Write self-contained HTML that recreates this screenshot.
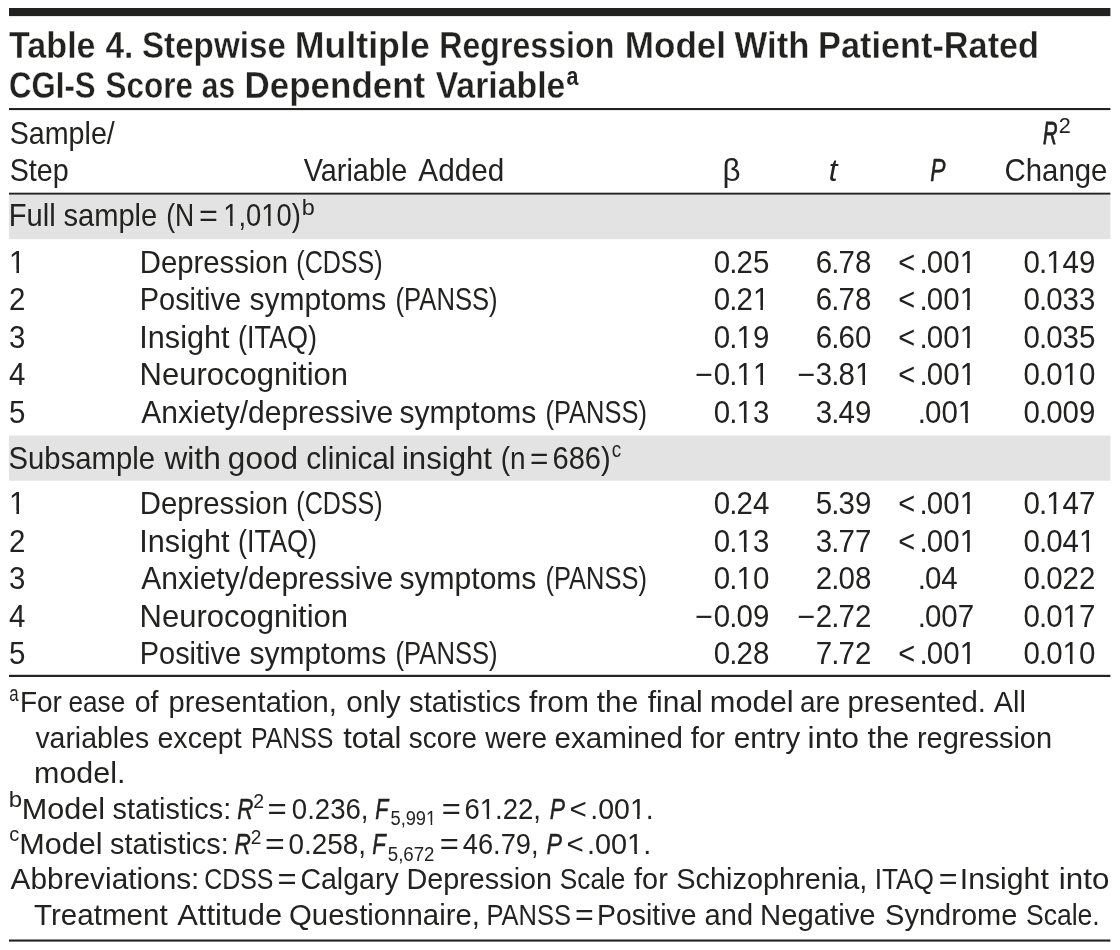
<!DOCTYPE html>
<html lang="en"><head><meta charset="utf-8"><title>Table 4. Stepwise Multiple Regression Model</title>
<style>html,body{margin:0;padding:0;background:#fff}svg{display:block}text{font-family:"Liberation Sans",sans-serif;fill:#222221;white-space:pre}.b{font-weight:bold}.i{font-style:italic}.r{font-weight:normal;font-style:normal}</style></head><body>
<svg width="1120" height="950" viewBox="0 0 1120 950">
<rect width="1120" height="950" fill="#fff"/>
<rect x="9" y="194.5" width="1101.4" height="44.6" fill="#e3e3e3"/>
<rect x="9" y="435.5" width="1101.4" height="45.2" fill="#e3e3e3"/>
<rect x="9" y="8" width="1101.4" height="8.1" fill="#222221"/>
<rect x="9" y="108.0" width="1101.4" height="2.1" fill="#222221"/>
<rect x="9" y="192.7" width="1101.4" height="1.9" fill="#222221"/>
<rect x="9" y="674.8" width="1101.4" height="2.2" fill="#222221"/>
<rect x="9" y="939.5" width="1101.4" height="2.1" fill="#222221"/>
<text y="57.7" font-size="37" class="b"><tspan x="9.02" textLength="86.58" lengthAdjust="spacingAndGlyphs" stroke="#fff" stroke-width="0.35">Table</tspan> <tspan x="105.39" textLength="27.97" lengthAdjust="spacingAndGlyphs" stroke="#fff" stroke-width="0.35">4.</tspan> <tspan x="141.94" textLength="143.99" lengthAdjust="spacingAndGlyphs" stroke="#fff" stroke-width="0.35">Stepwise</tspan> <tspan x="294.76" textLength="135.01" lengthAdjust="spacingAndGlyphs" stroke="#fff" stroke-width="0.35">Multiple</tspan> <tspan x="439.25" textLength="175.04" lengthAdjust="spacingAndGlyphs" stroke="#fff" stroke-width="0.35">Regression</tspan> <tspan x="624.81" textLength="101.23" lengthAdjust="spacingAndGlyphs" stroke="#fff" stroke-width="0.35">Model</tspan> <tspan x="734.62" textLength="74.84" lengthAdjust="spacingAndGlyphs" stroke="#fff" stroke-width="0.35">With</tspan> <tspan x="818.11" textLength="220.95" lengthAdjust="spacingAndGlyphs" stroke="#fff" stroke-width="0.35">Patient-Rated</tspan></text>
<text y="98" font-size="37" class="b"><tspan x="9.12" textLength="86.53" lengthAdjust="spacingAndGlyphs" stroke="#fff" stroke-width="0.35">CGI-S</tspan> <tspan x="105.49" textLength="87.58" lengthAdjust="spacingAndGlyphs" stroke="#fff" stroke-width="0.35">Score</tspan> <tspan x="201.83" textLength="33.2" lengthAdjust="spacingAndGlyphs" stroke="#fff" stroke-width="0.35">as</tspan> <tspan x="244.56" textLength="180.67" lengthAdjust="spacingAndGlyphs" stroke="#fff" stroke-width="0.35">Dependent</tspan> <tspan x="435.67" textLength="129.79" lengthAdjust="spacingAndGlyphs" stroke="#fff" stroke-width="0.35">Variable</tspan><tspan x="566.53" y="85" textLength="11.88" lengthAdjust="spacingAndGlyphs" font-size="25">a</tspan></text>
<text y="144" font-size="30.7"><tspan x="9.7" textLength="105.1" lengthAdjust="spacingAndGlyphs">Sample/</tspan> <tspan x="1043.03" textLength="14.48" lengthAdjust="spacingAndGlyphs" class="i" stroke="#222221" stroke-width="0.85">R</tspan><tspan x="1058.66" y="132.75" textLength="12.03" lengthAdjust="spacingAndGlyphs" font-size="22.7">2</tspan></text>
<text y="180.5" font-size="30.7"><tspan x="9.7" textLength="59.01" lengthAdjust="spacingAndGlyphs">Step</tspan> <tspan x="303.77" textLength="103.56" lengthAdjust="spacingAndGlyphs">Variable</tspan> <tspan x="418.34" textLength="85.87" lengthAdjust="spacingAndGlyphs">Added</tspan> <tspan x="722.47" textLength="18.07" lengthAdjust="spacingAndGlyphs">β</tspan> <tspan x="828.72" textLength="8.74" lengthAdjust="spacingAndGlyphs" class="i">t</tspan> <tspan x="930.2" textLength="15.25" lengthAdjust="spacingAndGlyphs" class="i" stroke="#222221" stroke-width="0.55">P</tspan> <tspan x="1004.56" textLength="102.9" lengthAdjust="spacingAndGlyphs">Change</tspan></text>
<text y="226.4" font-size="30.7"><tspan x="8.66" textLength="47" lengthAdjust="spacingAndGlyphs">Full</tspan> <tspan x="63.39" textLength="93.91" lengthAdjust="spacingAndGlyphs">sample</tspan> <tspan x="166.25" textLength="28.01" lengthAdjust="spacingAndGlyphs">(N</tspan> <tspan x="199.12" textLength="18.87" lengthAdjust="spacingAndGlyphs">=</tspan> <tspan x="223.32" textLength="77.48" lengthAdjust="spacingAndGlyphs">1,010)</tspan><tspan x="301.89" y="214.6" textLength="13.03" lengthAdjust="spacingAndGlyphs" font-size="21.8">b</tspan></text>
<text y="273.2" font-size="30.7"><tspan x="9" textLength="16.4" lengthAdjust="spacingAndGlyphs">1</tspan> <tspan x="139.75" textLength="148.21" lengthAdjust="spacingAndGlyphs">Depression</tspan> <tspan x="296.35" textLength="86.26" lengthAdjust="spacingAndGlyphs">(CDSS)</tspan> <tspan x="713.75" textLength="16.4" lengthAdjust="spacingAndGlyphs">0</tspan><tspan x="729.25" textLength="8.19" lengthAdjust="spacingAndGlyphs">.</tspan><tspan x="736.55" textLength="16.4" lengthAdjust="spacingAndGlyphs">2</tspan><tspan x="752.95" textLength="16.4" lengthAdjust="spacingAndGlyphs">5</tspan> <tspan x="815.75" textLength="16.4" lengthAdjust="spacingAndGlyphs">6</tspan><tspan x="831.25" textLength="8.19" lengthAdjust="spacingAndGlyphs">.</tspan><tspan x="838.55" textLength="16.4" lengthAdjust="spacingAndGlyphs">7</tspan><tspan x="854.95" textLength="16.4" lengthAdjust="spacingAndGlyphs">8</tspan> <tspan x="898.37" textLength="16.95" lengthAdjust="spacingAndGlyphs">&lt;</tspan><tspan x="919.55" textLength="8.19" lengthAdjust="spacingAndGlyphs">.</tspan><tspan x="926.85" textLength="16.4" lengthAdjust="spacingAndGlyphs">0</tspan><tspan x="943.25" textLength="16.4" lengthAdjust="spacingAndGlyphs">0</tspan><tspan x="959.65" textLength="16.4" lengthAdjust="spacingAndGlyphs">1</tspan> <tspan x="1023.4" textLength="16.4" lengthAdjust="spacingAndGlyphs">0</tspan><tspan x="1038.9" textLength="8.19" lengthAdjust="spacingAndGlyphs">.</tspan><tspan x="1046.2" textLength="16.4" lengthAdjust="spacingAndGlyphs">1</tspan><tspan x="1062.6" textLength="16.4" lengthAdjust="spacingAndGlyphs">4</tspan><tspan x="1079" textLength="16.4" lengthAdjust="spacingAndGlyphs">9</tspan></text>
<text y="309.9" font-size="30.7"><tspan x="9" textLength="16.4" lengthAdjust="spacingAndGlyphs">2</tspan> <tspan x="139.78" textLength="101.31" lengthAdjust="spacingAndGlyphs">Positive</tspan> <tspan x="249.56" textLength="136.82" lengthAdjust="spacingAndGlyphs">symptoms</tspan> <tspan x="395.56" textLength="102.08" lengthAdjust="spacingAndGlyphs">(PANSS)</tspan> <tspan x="713.75" textLength="16.4" lengthAdjust="spacingAndGlyphs">0</tspan><tspan x="729.25" textLength="8.19" lengthAdjust="spacingAndGlyphs">.</tspan><tspan x="736.55" textLength="16.4" lengthAdjust="spacingAndGlyphs">2</tspan><tspan x="752.95" textLength="16.4" lengthAdjust="spacingAndGlyphs">1</tspan> <tspan x="815.75" textLength="16.4" lengthAdjust="spacingAndGlyphs">6</tspan><tspan x="831.25" textLength="8.19" lengthAdjust="spacingAndGlyphs">.</tspan><tspan x="838.55" textLength="16.4" lengthAdjust="spacingAndGlyphs">7</tspan><tspan x="854.95" textLength="16.4" lengthAdjust="spacingAndGlyphs">8</tspan> <tspan x="898.37" textLength="16.95" lengthAdjust="spacingAndGlyphs">&lt;</tspan><tspan x="919.55" textLength="8.19" lengthAdjust="spacingAndGlyphs">.</tspan><tspan x="926.85" textLength="16.4" lengthAdjust="spacingAndGlyphs">0</tspan><tspan x="943.25" textLength="16.4" lengthAdjust="spacingAndGlyphs">0</tspan><tspan x="959.65" textLength="16.4" lengthAdjust="spacingAndGlyphs">1</tspan> <tspan x="1023.4" textLength="16.4" lengthAdjust="spacingAndGlyphs">0</tspan><tspan x="1038.9" textLength="8.19" lengthAdjust="spacingAndGlyphs">.</tspan><tspan x="1046.2" textLength="16.4" lengthAdjust="spacingAndGlyphs">0</tspan><tspan x="1062.6" textLength="16.4" lengthAdjust="spacingAndGlyphs">3</tspan><tspan x="1079" textLength="16.4" lengthAdjust="spacingAndGlyphs">3</tspan></text>
<text y="347.8" font-size="30.7"><tspan x="9" textLength="16.4" lengthAdjust="spacingAndGlyphs">3</tspan> <tspan x="139.32" textLength="90.2" lengthAdjust="spacingAndGlyphs">Insight</tspan> <tspan x="237.97" textLength="79" lengthAdjust="spacingAndGlyphs">(ITAQ)</tspan> <tspan x="713.75" textLength="16.4" lengthAdjust="spacingAndGlyphs">0</tspan><tspan x="729.25" textLength="8.19" lengthAdjust="spacingAndGlyphs">.</tspan><tspan x="736.55" textLength="16.4" lengthAdjust="spacingAndGlyphs">1</tspan><tspan x="752.95" textLength="16.4" lengthAdjust="spacingAndGlyphs">9</tspan> <tspan x="815.75" textLength="16.4" lengthAdjust="spacingAndGlyphs">6</tspan><tspan x="831.25" textLength="8.19" lengthAdjust="spacingAndGlyphs">.</tspan><tspan x="838.55" textLength="16.4" lengthAdjust="spacingAndGlyphs">6</tspan><tspan x="854.95" textLength="16.4" lengthAdjust="spacingAndGlyphs">0</tspan> <tspan x="898.37" textLength="16.95" lengthAdjust="spacingAndGlyphs">&lt;</tspan><tspan x="919.55" textLength="8.19" lengthAdjust="spacingAndGlyphs">.</tspan><tspan x="926.85" textLength="16.4" lengthAdjust="spacingAndGlyphs">0</tspan><tspan x="943.25" textLength="16.4" lengthAdjust="spacingAndGlyphs">0</tspan><tspan x="959.65" textLength="16.4" lengthAdjust="spacingAndGlyphs">1</tspan> <tspan x="1023.4" textLength="16.4" lengthAdjust="spacingAndGlyphs">0</tspan><tspan x="1038.9" textLength="8.19" lengthAdjust="spacingAndGlyphs">.</tspan><tspan x="1046.2" textLength="16.4" lengthAdjust="spacingAndGlyphs">0</tspan><tspan x="1062.6" textLength="16.4" lengthAdjust="spacingAndGlyphs">3</tspan><tspan x="1079" textLength="16.4" lengthAdjust="spacingAndGlyphs">5</tspan></text>
<text y="384.8" font-size="30.7"><tspan x="9" textLength="16.4" lengthAdjust="spacingAndGlyphs">4</tspan> <tspan x="139.61" textLength="208.46" lengthAdjust="spacingAndGlyphs">Neurocognition</tspan> <tspan x="695.3" textLength="17.79" lengthAdjust="spacingAndGlyphs">−</tspan><tspan x="713.75" textLength="16.4" lengthAdjust="spacingAndGlyphs">0</tspan><tspan x="729.25" textLength="8.19" lengthAdjust="spacingAndGlyphs">.</tspan><tspan x="736.55" textLength="16.4" lengthAdjust="spacingAndGlyphs">1</tspan><tspan x="752.95" textLength="16.4" lengthAdjust="spacingAndGlyphs">1</tspan> <tspan x="797.39" textLength="17.91" lengthAdjust="spacingAndGlyphs">−</tspan><tspan x="815.75" textLength="16.4" lengthAdjust="spacingAndGlyphs">3</tspan><tspan x="831.25" textLength="8.19" lengthAdjust="spacingAndGlyphs">.</tspan><tspan x="838.55" textLength="16.4" lengthAdjust="spacingAndGlyphs">8</tspan><tspan x="854.95" textLength="16.4" lengthAdjust="spacingAndGlyphs">1</tspan> <tspan x="898.37" textLength="16.95" lengthAdjust="spacingAndGlyphs">&lt;</tspan><tspan x="919.55" textLength="8.19" lengthAdjust="spacingAndGlyphs">.</tspan><tspan x="926.85" textLength="16.4" lengthAdjust="spacingAndGlyphs">0</tspan><tspan x="943.25" textLength="16.4" lengthAdjust="spacingAndGlyphs">0</tspan><tspan x="959.65" textLength="16.4" lengthAdjust="spacingAndGlyphs">1</tspan> <tspan x="1023.4" textLength="16.4" lengthAdjust="spacingAndGlyphs">0</tspan><tspan x="1038.9" textLength="8.19" lengthAdjust="spacingAndGlyphs">.</tspan><tspan x="1046.2" textLength="16.4" lengthAdjust="spacingAndGlyphs">0</tspan><tspan x="1062.6" textLength="16.4" lengthAdjust="spacingAndGlyphs">1</tspan><tspan x="1079" textLength="16.4" lengthAdjust="spacingAndGlyphs">0</tspan></text>
<text y="423.2" font-size="30.7"><tspan x="9" textLength="16.4" lengthAdjust="spacingAndGlyphs">5</tspan> <tspan x="141.34" textLength="251.79" lengthAdjust="spacingAndGlyphs">Anxiety/depressive</tspan> <tspan x="399.56" textLength="136.82" lengthAdjust="spacingAndGlyphs">symptoms</tspan> <tspan x="545.57" textLength="101.31" lengthAdjust="spacingAndGlyphs">(PANSS)</tspan> <tspan x="713.75" textLength="16.4" lengthAdjust="spacingAndGlyphs">0</tspan><tspan x="729.25" textLength="8.19" lengthAdjust="spacingAndGlyphs">.</tspan><tspan x="736.55" textLength="16.4" lengthAdjust="spacingAndGlyphs">1</tspan><tspan x="752.95" textLength="16.4" lengthAdjust="spacingAndGlyphs">3</tspan> <tspan x="815.75" textLength="16.4" lengthAdjust="spacingAndGlyphs">3</tspan><tspan x="831.25" textLength="8.19" lengthAdjust="spacingAndGlyphs">.</tspan><tspan x="838.55" textLength="16.4" lengthAdjust="spacingAndGlyphs">4</tspan><tspan x="854.95" textLength="16.4" lengthAdjust="spacingAndGlyphs">9</tspan> <tspan x="917.75" textLength="8.19" lengthAdjust="spacingAndGlyphs">.</tspan><tspan x="925.05" textLength="16.4" lengthAdjust="spacingAndGlyphs">0</tspan><tspan x="941.45" textLength="16.4" lengthAdjust="spacingAndGlyphs">0</tspan><tspan x="957.85" textLength="16.4" lengthAdjust="spacingAndGlyphs">1</tspan> <tspan x="1023.4" textLength="16.4" lengthAdjust="spacingAndGlyphs">0</tspan><tspan x="1038.9" textLength="8.19" lengthAdjust="spacingAndGlyphs">.</tspan><tspan x="1046.2" textLength="16.4" lengthAdjust="spacingAndGlyphs">0</tspan><tspan x="1062.6" textLength="16.4" lengthAdjust="spacingAndGlyphs">0</tspan><tspan x="1079" textLength="16.4" lengthAdjust="spacingAndGlyphs">9</tspan></text>
<text y="468.7" font-size="30.7"><tspan x="8.57" textLength="146.46" lengthAdjust="spacingAndGlyphs">Subsample</tspan> <tspan x="164.45" textLength="56.31" lengthAdjust="spacingAndGlyphs">with</tspan> <tspan x="227.88" textLength="70.05" lengthAdjust="spacingAndGlyphs">good</tspan> <tspan x="306.13" textLength="89.36" lengthAdjust="spacingAndGlyphs">clinical</tspan> <tspan x="401.91" textLength="90.11" lengthAdjust="spacingAndGlyphs">insight</tspan> <tspan x="500.77" textLength="24.85" lengthAdjust="spacingAndGlyphs">(n</tspan> <tspan x="530.06" textLength="18.39" lengthAdjust="spacingAndGlyphs">=</tspan> <tspan x="552.52" textLength="58.14" lengthAdjust="spacingAndGlyphs">686)</tspan><tspan x="611.73" y="457.3" textLength="9.39" lengthAdjust="spacingAndGlyphs" font-size="22.3">c</tspan></text>
<text y="514.3" font-size="30.7"><tspan x="9" textLength="16.4" lengthAdjust="spacingAndGlyphs">1</tspan> <tspan x="139.75" textLength="148.21" lengthAdjust="spacingAndGlyphs">Depression</tspan> <tspan x="296.35" textLength="86.26" lengthAdjust="spacingAndGlyphs">(CDSS)</tspan> <tspan x="713.75" textLength="16.4" lengthAdjust="spacingAndGlyphs">0</tspan><tspan x="729.25" textLength="8.19" lengthAdjust="spacingAndGlyphs">.</tspan><tspan x="736.55" textLength="16.4" lengthAdjust="spacingAndGlyphs">2</tspan><tspan x="752.95" textLength="16.4" lengthAdjust="spacingAndGlyphs">4</tspan> <tspan x="815.75" textLength="16.4" lengthAdjust="spacingAndGlyphs">5</tspan><tspan x="831.25" textLength="8.19" lengthAdjust="spacingAndGlyphs">.</tspan><tspan x="838.55" textLength="16.4" lengthAdjust="spacingAndGlyphs">3</tspan><tspan x="854.95" textLength="16.4" lengthAdjust="spacingAndGlyphs">9</tspan> <tspan x="898.37" textLength="16.95" lengthAdjust="spacingAndGlyphs">&lt;</tspan><tspan x="919.55" textLength="8.19" lengthAdjust="spacingAndGlyphs">.</tspan><tspan x="926.85" textLength="16.4" lengthAdjust="spacingAndGlyphs">0</tspan><tspan x="943.25" textLength="16.4" lengthAdjust="spacingAndGlyphs">0</tspan><tspan x="959.65" textLength="16.4" lengthAdjust="spacingAndGlyphs">1</tspan> <tspan x="1023.4" textLength="16.4" lengthAdjust="spacingAndGlyphs">0</tspan><tspan x="1038.9" textLength="8.19" lengthAdjust="spacingAndGlyphs">.</tspan><tspan x="1046.2" textLength="16.4" lengthAdjust="spacingAndGlyphs">1</tspan><tspan x="1062.6" textLength="16.4" lengthAdjust="spacingAndGlyphs">4</tspan><tspan x="1079" textLength="16.4" lengthAdjust="spacingAndGlyphs">7</tspan></text>
<text y="551.85" font-size="30.7"><tspan x="9" textLength="16.4" lengthAdjust="spacingAndGlyphs">2</tspan> <tspan x="139.32" textLength="90.2" lengthAdjust="spacingAndGlyphs">Insight</tspan> <tspan x="237.97" textLength="79" lengthAdjust="spacingAndGlyphs">(ITAQ)</tspan> <tspan x="713.75" textLength="16.4" lengthAdjust="spacingAndGlyphs">0</tspan><tspan x="729.25" textLength="8.19" lengthAdjust="spacingAndGlyphs">.</tspan><tspan x="736.55" textLength="16.4" lengthAdjust="spacingAndGlyphs">1</tspan><tspan x="752.95" textLength="16.4" lengthAdjust="spacingAndGlyphs">3</tspan> <tspan x="815.75" textLength="16.4" lengthAdjust="spacingAndGlyphs">3</tspan><tspan x="831.25" textLength="8.19" lengthAdjust="spacingAndGlyphs">.</tspan><tspan x="838.55" textLength="16.4" lengthAdjust="spacingAndGlyphs">7</tspan><tspan x="854.95" textLength="16.4" lengthAdjust="spacingAndGlyphs">7</tspan> <tspan x="898.37" textLength="16.95" lengthAdjust="spacingAndGlyphs">&lt;</tspan><tspan x="919.55" textLength="8.19" lengthAdjust="spacingAndGlyphs">.</tspan><tspan x="926.85" textLength="16.4" lengthAdjust="spacingAndGlyphs">0</tspan><tspan x="943.25" textLength="16.4" lengthAdjust="spacingAndGlyphs">0</tspan><tspan x="959.65" textLength="16.4" lengthAdjust="spacingAndGlyphs">1</tspan> <tspan x="1023.4" textLength="16.4" lengthAdjust="spacingAndGlyphs">0</tspan><tspan x="1038.9" textLength="8.19" lengthAdjust="spacingAndGlyphs">.</tspan><tspan x="1046.2" textLength="16.4" lengthAdjust="spacingAndGlyphs">0</tspan><tspan x="1062.6" textLength="16.4" lengthAdjust="spacingAndGlyphs">4</tspan><tspan x="1079" textLength="16.4" lengthAdjust="spacingAndGlyphs">1</tspan></text>
<text y="589" font-size="30.7"><tspan x="9" textLength="16.4" lengthAdjust="spacingAndGlyphs">3</tspan> <tspan x="141.34" textLength="251.79" lengthAdjust="spacingAndGlyphs">Anxiety/depressive</tspan> <tspan x="399.56" textLength="136.82" lengthAdjust="spacingAndGlyphs">symptoms</tspan> <tspan x="545.57" textLength="101.31" lengthAdjust="spacingAndGlyphs">(PANSS)</tspan> <tspan x="713.75" textLength="16.4" lengthAdjust="spacingAndGlyphs">0</tspan><tspan x="729.25" textLength="8.19" lengthAdjust="spacingAndGlyphs">.</tspan><tspan x="736.55" textLength="16.4" lengthAdjust="spacingAndGlyphs">1</tspan><tspan x="752.95" textLength="16.4" lengthAdjust="spacingAndGlyphs">0</tspan> <tspan x="815.75" textLength="16.4" lengthAdjust="spacingAndGlyphs">2</tspan><tspan x="831.25" textLength="8.19" lengthAdjust="spacingAndGlyphs">.</tspan><tspan x="838.55" textLength="16.4" lengthAdjust="spacingAndGlyphs">0</tspan><tspan x="854.95" textLength="16.4" lengthAdjust="spacingAndGlyphs">8</tspan> <tspan x="917.65" textLength="8.19" lengthAdjust="spacingAndGlyphs">.</tspan><tspan x="924.95" textLength="16.4" lengthAdjust="spacingAndGlyphs">0</tspan><tspan x="941.35" textLength="16.4" lengthAdjust="spacingAndGlyphs">4</tspan> <tspan x="1023.4" textLength="16.4" lengthAdjust="spacingAndGlyphs">0</tspan><tspan x="1038.9" textLength="8.19" lengthAdjust="spacingAndGlyphs">.</tspan><tspan x="1046.2" textLength="16.4" lengthAdjust="spacingAndGlyphs">0</tspan><tspan x="1062.6" textLength="16.4" lengthAdjust="spacingAndGlyphs">2</tspan><tspan x="1079" textLength="16.4" lengthAdjust="spacingAndGlyphs">2</tspan></text>
<text y="626.85" font-size="30.7"><tspan x="9" textLength="16.4" lengthAdjust="spacingAndGlyphs">4</tspan> <tspan x="139.61" textLength="208.46" lengthAdjust="spacingAndGlyphs">Neurocognition</tspan> <tspan x="695.3" textLength="17.79" lengthAdjust="spacingAndGlyphs">−</tspan><tspan x="713.75" textLength="16.4" lengthAdjust="spacingAndGlyphs">0</tspan><tspan x="729.25" textLength="8.19" lengthAdjust="spacingAndGlyphs">.</tspan><tspan x="736.55" textLength="16.4" lengthAdjust="spacingAndGlyphs">0</tspan><tspan x="752.95" textLength="16.4" lengthAdjust="spacingAndGlyphs">9</tspan> <tspan x="797.39" textLength="17.91" lengthAdjust="spacingAndGlyphs">−</tspan><tspan x="815.75" textLength="16.4" lengthAdjust="spacingAndGlyphs">2</tspan><tspan x="831.25" textLength="8.19" lengthAdjust="spacingAndGlyphs">.</tspan><tspan x="838.55" textLength="16.4" lengthAdjust="spacingAndGlyphs">7</tspan><tspan x="854.95" textLength="16.4" lengthAdjust="spacingAndGlyphs">2</tspan> <tspan x="917.65" textLength="8.19" lengthAdjust="spacingAndGlyphs">.</tspan><tspan x="924.95" textLength="16.4" lengthAdjust="spacingAndGlyphs">0</tspan><tspan x="941.35" textLength="16.4" lengthAdjust="spacingAndGlyphs">0</tspan><tspan x="957.75" textLength="16.4" lengthAdjust="spacingAndGlyphs">7</tspan> <tspan x="1023.4" textLength="16.4" lengthAdjust="spacingAndGlyphs">0</tspan><tspan x="1038.9" textLength="8.19" lengthAdjust="spacingAndGlyphs">.</tspan><tspan x="1046.2" textLength="16.4" lengthAdjust="spacingAndGlyphs">0</tspan><tspan x="1062.6" textLength="16.4" lengthAdjust="spacingAndGlyphs">1</tspan><tspan x="1079" textLength="16.4" lengthAdjust="spacingAndGlyphs">7</tspan></text>
<text y="664.4" font-size="30.7"><tspan x="9" textLength="16.4" lengthAdjust="spacingAndGlyphs">5</tspan> <tspan x="139.78" textLength="101.31" lengthAdjust="spacingAndGlyphs">Positive</tspan> <tspan x="249.56" textLength="136.82" lengthAdjust="spacingAndGlyphs">symptoms</tspan> <tspan x="395.56" textLength="102.08" lengthAdjust="spacingAndGlyphs">(PANSS)</tspan> <tspan x="713.75" textLength="16.4" lengthAdjust="spacingAndGlyphs">0</tspan><tspan x="729.25" textLength="8.19" lengthAdjust="spacingAndGlyphs">.</tspan><tspan x="736.55" textLength="16.4" lengthAdjust="spacingAndGlyphs">2</tspan><tspan x="752.95" textLength="16.4" lengthAdjust="spacingAndGlyphs">8</tspan> <tspan x="815.75" textLength="16.4" lengthAdjust="spacingAndGlyphs">7</tspan><tspan x="831.25" textLength="8.19" lengthAdjust="spacingAndGlyphs">.</tspan><tspan x="838.55" textLength="16.4" lengthAdjust="spacingAndGlyphs">7</tspan><tspan x="854.95" textLength="16.4" lengthAdjust="spacingAndGlyphs">2</tspan> <tspan x="898.37" textLength="16.95" lengthAdjust="spacingAndGlyphs">&lt;</tspan><tspan x="919.55" textLength="8.19" lengthAdjust="spacingAndGlyphs">.</tspan><tspan x="926.85" textLength="16.4" lengthAdjust="spacingAndGlyphs">0</tspan><tspan x="943.25" textLength="16.4" lengthAdjust="spacingAndGlyphs">0</tspan><tspan x="959.65" textLength="16.4" lengthAdjust="spacingAndGlyphs">1</tspan> <tspan x="1023.4" textLength="16.4" lengthAdjust="spacingAndGlyphs">0</tspan><tspan x="1038.9" textLength="8.19" lengthAdjust="spacingAndGlyphs">.</tspan><tspan x="1046.2" textLength="16.4" lengthAdjust="spacingAndGlyphs">0</tspan><tspan x="1062.6" textLength="16.4" lengthAdjust="spacingAndGlyphs">1</tspan><tspan x="1079" textLength="16.4" lengthAdjust="spacingAndGlyphs">0</tspan></text>
<text y="712.2" font-size="28.6"><tspan x="9.19" y="701" textLength="9.35" lengthAdjust="spacingAndGlyphs" font-size="21.51">a</tspan><tspan x="19.9" y="712.2" textLength="42.07" lengthAdjust="spacingAndGlyphs">For</tspan> <tspan x="68.54" textLength="56.67" lengthAdjust="spacingAndGlyphs">ease</tspan> <tspan x="134.7" textLength="23.81" lengthAdjust="spacingAndGlyphs">of</tspan> <tspan x="168.52" textLength="168.39" lengthAdjust="spacingAndGlyphs">presentation,</tspan> <tspan x="346.15" textLength="54.51" lengthAdjust="spacingAndGlyphs">only</tspan> <tspan x="409.09" textLength="111.77" lengthAdjust="spacingAndGlyphs">statistics</tspan> <tspan x="528.98" textLength="60" lengthAdjust="spacingAndGlyphs">from</tspan> <tspan x="596.85" textLength="41.37" lengthAdjust="spacingAndGlyphs">the</tspan> <tspan x="647.78" textLength="55.03" lengthAdjust="spacingAndGlyphs">final</tspan> <tspan x="709.86" textLength="83.8" lengthAdjust="spacingAndGlyphs">model</tspan> <tspan x="800.01" textLength="40.33" lengthAdjust="spacingAndGlyphs">are</tspan> <tspan x="847.51" textLength="138.46" lengthAdjust="spacingAndGlyphs">presented.</tspan> <tspan x="993.84" textLength="32.09" lengthAdjust="spacingAndGlyphs">All</tspan></text>
<text y="747.7" font-size="28.6"><tspan x="35.4" textLength="113.72" lengthAdjust="spacingAndGlyphs">variables</tspan> <tspan x="157.49" textLength="84.12" lengthAdjust="spacingAndGlyphs">except</tspan> <tspan x="250.96" textLength="82.48" lengthAdjust="spacingAndGlyphs">PANSS</tspan> <tspan x="343.33" textLength="58.12" lengthAdjust="spacingAndGlyphs">total</tspan> <tspan x="408.82" textLength="68.11" lengthAdjust="spacingAndGlyphs">score</tspan> <tspan x="485.34" textLength="61.83" lengthAdjust="spacingAndGlyphs">were</tspan> <tspan x="554.64" textLength="128.26" lengthAdjust="spacingAndGlyphs">examined</tspan> <tspan x="690.78" textLength="34.3" lengthAdjust="spacingAndGlyphs">for</tspan> <tspan x="733.73" textLength="66.43" lengthAdjust="spacingAndGlyphs">entry</tspan> <tspan x="807.56" textLength="51.58" lengthAdjust="spacingAndGlyphs">into</tspan> <tspan x="867.54" textLength="41.79" lengthAdjust="spacingAndGlyphs">the</tspan> <tspan x="916.98" textLength="135.1" lengthAdjust="spacingAndGlyphs">regression</tspan></text>
<text y="783.1" font-size="28.6"><tspan x="34.03" textLength="91.46" lengthAdjust="spacingAndGlyphs">model.</tspan></text>
<text y="818.6" font-size="28.6"><tspan x="8.65" y="807" textLength="13.34" lengthAdjust="spacingAndGlyphs" font-size="21.6">b</tspan><tspan x="21.79" y="818.6" textLength="83.39" lengthAdjust="spacingAndGlyphs">Model</tspan> <tspan x="112.6" textLength="118.59" lengthAdjust="spacingAndGlyphs">statistics:</tspan> <tspan x="237.21" textLength="16.22" lengthAdjust="spacingAndGlyphs" class="i" stroke="#222221" stroke-width="0.44">R</tspan><tspan x="253.37" y="808.2" textLength="10.84" lengthAdjust="spacingAndGlyphs" font-size="20.61">2</tspan> <tspan x="267.49" y="818.6" textLength="19.27" lengthAdjust="spacingAndGlyphs">=</tspan> <tspan x="291.82" textLength="76.71" lengthAdjust="spacingAndGlyphs">0.236,</tspan> <tspan x="375.24" textLength="13.06" lengthAdjust="spacingAndGlyphs" class="i" stroke="#222221" stroke-width="0.54">F</tspan><tspan x="390.47" y="825" textLength="45.72" lengthAdjust="spacingAndGlyphs" font-size="20.61">5,991</tspan> <tspan x="441.8" y="818.6" textLength="19.11" lengthAdjust="spacingAndGlyphs">=</tspan> <tspan x="464.5" textLength="76.52" lengthAdjust="spacingAndGlyphs">61.22,</tspan> <tspan x="549.7" textLength="15.25" lengthAdjust="spacingAndGlyphs" class="i" stroke="#222221" stroke-width="0.4">P</tspan> <tspan x="569.44" textLength="17.31" lengthAdjust="spacingAndGlyphs">&lt;</tspan> <tspan x="590.3" textLength="63.35" lengthAdjust="spacingAndGlyphs">.001.</tspan></text>
<text y="854.2" font-size="28.6"><tspan x="9.35" y="841.3" textLength="10.01" lengthAdjust="spacingAndGlyphs" font-size="21">c</tspan><tspan x="19.29" y="854.2" textLength="83.39" lengthAdjust="spacingAndGlyphs">Model</tspan> <tspan x="110.1" textLength="118.59" lengthAdjust="spacingAndGlyphs">statistics:</tspan> <tspan x="234.5" textLength="16.43" lengthAdjust="spacingAndGlyphs" class="i" stroke="#222221" stroke-width="0.41">R</tspan><tspan x="250.64" y="843.8" textLength="10.66" lengthAdjust="spacingAndGlyphs" font-size="20.61">2</tspan> <tspan x="264.95" y="854.2" textLength="19.75" lengthAdjust="spacingAndGlyphs">=</tspan> <tspan x="288.56" textLength="77.49" lengthAdjust="spacingAndGlyphs">0.258,</tspan> <tspan x="372.22" textLength="13.54" lengthAdjust="spacingAndGlyphs" class="i" stroke="#222221" stroke-width="0.46">F</tspan><tspan x="387.75" y="860.6" textLength="46.74" lengthAdjust="spacingAndGlyphs" font-size="20.61">5,672</tspan> <tspan x="439.8" y="854.2" textLength="19.11" lengthAdjust="spacingAndGlyphs">=</tspan> <tspan x="462.77" textLength="75.72" lengthAdjust="spacingAndGlyphs">46.79,</tspan> <tspan x="546.43" textLength="15.51" lengthAdjust="spacingAndGlyphs" class="i" stroke="#222221" stroke-width="0.37">P</tspan> <tspan x="566.44" textLength="17.31" lengthAdjust="spacingAndGlyphs">&lt;</tspan> <tspan x="587.02" textLength="64.17" lengthAdjust="spacingAndGlyphs">.001.</tspan></text>
<text y="889.2" font-size="28.6"><tspan x="10.64" textLength="188.78" lengthAdjust="spacingAndGlyphs">Abbreviations:</tspan> <tspan x="204.23" textLength="69.21" lengthAdjust="spacingAndGlyphs">CDSS</tspan> <tspan x="277.5" textLength="19.11" lengthAdjust="spacingAndGlyphs">=</tspan> <tspan x="300.45" textLength="98.2" lengthAdjust="spacingAndGlyphs">Calgary</tspan> <tspan x="406.44" textLength="145.63" lengthAdjust="spacingAndGlyphs">Depression</tspan> <tspan x="559.71" textLength="65.76" lengthAdjust="spacingAndGlyphs">Scale</tspan> <tspan x="634.09" textLength="33.69" lengthAdjust="spacingAndGlyphs">for</tspan> <tspan x="676.29" textLength="191.11" lengthAdjust="spacingAndGlyphs">Schizophrenia,</tspan> <tspan x="874.73" textLength="59.33" lengthAdjust="spacingAndGlyphs">ITAQ</tspan> <tspan x="938.83" textLength="18.81" lengthAdjust="spacingAndGlyphs">=</tspan> <tspan x="959.86" textLength="88.91" lengthAdjust="spacingAndGlyphs">Insight</tspan> <tspan x="1058.8" textLength="50.57" lengthAdjust="spacingAndGlyphs">into</tspan></text>
<text y="925.2" font-size="28.6"><tspan x="33.99" textLength="133.63" lengthAdjust="spacingAndGlyphs">Treatment</tspan> <tspan x="177.24" textLength="104.94" lengthAdjust="spacingAndGlyphs">Attitude</tspan> <tspan x="289.01" textLength="190.93" lengthAdjust="spacingAndGlyphs">Questionnaire,</tspan> <tspan x="486.51" textLength="84.56" lengthAdjust="spacingAndGlyphs">PANSS</tspan> <tspan x="574.93" textLength="18.75" lengthAdjust="spacingAndGlyphs">=</tspan> <tspan x="597.07" textLength="99.39" lengthAdjust="spacingAndGlyphs">Positive</tspan> <tspan x="704.56" textLength="48.51" lengthAdjust="spacingAndGlyphs">and</tspan> <tspan x="760" textLength="115.61" lengthAdjust="spacingAndGlyphs">Negative</tspan> <tspan x="885.08" textLength="132.26" lengthAdjust="spacingAndGlyphs">Syndrome</tspan> <tspan x="1025.94" textLength="73.78" lengthAdjust="spacingAndGlyphs">Scale.</tspan></text>
<rect x="223.98" y="222.91" width="6.21" height="4.69" fill="#e3e3e3"/>
<rect x="232.60" y="222.91" width="5.79" height="4.69" fill="#e3e3e3"/>
<rect x="261.96" y="222.91" width="6.21" height="4.69" fill="#e3e3e3"/>
<rect x="270.59" y="222.91" width="5.79" height="4.69" fill="#e3e3e3"/>
<rect x="9.72" y="269.71" width="6.70" height="4.69" fill="#fff"/>
<rect x="19.02" y="269.71" width="6.25" height="4.69" fill="#fff"/>
<rect x="960.37" y="269.71" width="6.70" height="4.69" fill="#fff"/>
<rect x="969.67" y="269.71" width="6.25" height="4.69" fill="#fff"/>
<rect x="1046.92" y="269.71" width="6.70" height="4.69" fill="#fff"/>
<rect x="1056.22" y="269.71" width="6.25" height="4.69" fill="#fff"/>
<rect x="753.67" y="306.41" width="6.70" height="4.69" fill="#fff"/>
<rect x="762.97" y="306.41" width="6.25" height="4.69" fill="#fff"/>
<rect x="960.37" y="306.41" width="6.70" height="4.69" fill="#fff"/>
<rect x="969.67" y="306.41" width="6.25" height="4.69" fill="#fff"/>
<rect x="737.27" y="344.31" width="6.70" height="4.69" fill="#fff"/>
<rect x="746.57" y="344.31" width="6.25" height="4.69" fill="#fff"/>
<rect x="960.37" y="344.31" width="6.70" height="4.69" fill="#fff"/>
<rect x="969.67" y="344.31" width="6.25" height="4.69" fill="#fff"/>
<rect x="737.27" y="381.31" width="6.70" height="4.69" fill="#fff"/>
<rect x="746.57" y="381.31" width="6.25" height="4.69" fill="#fff"/>
<rect x="753.67" y="381.31" width="6.70" height="4.69" fill="#fff"/>
<rect x="762.97" y="381.31" width="6.25" height="4.69" fill="#fff"/>
<rect x="855.67" y="381.31" width="6.70" height="4.69" fill="#fff"/>
<rect x="864.97" y="381.31" width="6.25" height="4.69" fill="#fff"/>
<rect x="960.37" y="381.31" width="6.70" height="4.69" fill="#fff"/>
<rect x="969.67" y="381.31" width="6.25" height="4.69" fill="#fff"/>
<rect x="1063.32" y="381.31" width="6.70" height="4.69" fill="#fff"/>
<rect x="1072.62" y="381.31" width="6.25" height="4.69" fill="#fff"/>
<rect x="737.27" y="419.71" width="6.70" height="4.69" fill="#fff"/>
<rect x="746.57" y="419.71" width="6.25" height="4.69" fill="#fff"/>
<rect x="958.57" y="419.71" width="6.70" height="4.69" fill="#fff"/>
<rect x="967.87" y="419.71" width="6.25" height="4.69" fill="#fff"/>
<rect x="9.72" y="510.81" width="6.70" height="4.69" fill="#fff"/>
<rect x="19.02" y="510.81" width="6.25" height="4.69" fill="#fff"/>
<rect x="960.37" y="510.81" width="6.70" height="4.69" fill="#fff"/>
<rect x="969.67" y="510.81" width="6.25" height="4.69" fill="#fff"/>
<rect x="1046.92" y="510.81" width="6.70" height="4.69" fill="#fff"/>
<rect x="1056.22" y="510.81" width="6.25" height="4.69" fill="#fff"/>
<rect x="737.27" y="548.36" width="6.70" height="4.69" fill="#fff"/>
<rect x="746.57" y="548.36" width="6.25" height="4.69" fill="#fff"/>
<rect x="960.37" y="548.36" width="6.70" height="4.69" fill="#fff"/>
<rect x="969.67" y="548.36" width="6.25" height="4.69" fill="#fff"/>
<rect x="1079.72" y="548.36" width="6.70" height="4.69" fill="#fff"/>
<rect x="1089.02" y="548.36" width="6.25" height="4.69" fill="#fff"/>
<rect x="737.27" y="585.51" width="6.70" height="4.69" fill="#fff"/>
<rect x="746.57" y="585.51" width="6.25" height="4.69" fill="#fff"/>
<rect x="1063.32" y="623.36" width="6.70" height="4.69" fill="#fff"/>
<rect x="1072.62" y="623.36" width="6.25" height="4.69" fill="#fff"/>
<rect x="960.37" y="660.91" width="6.70" height="4.69" fill="#fff"/>
<rect x="969.67" y="660.91" width="6.25" height="4.69" fill="#fff"/>
<rect x="1063.32" y="660.91" width="6.70" height="4.69" fill="#fff"/>
<rect x="1072.62" y="660.91" width="6.25" height="4.69" fill="#fff"/>
<rect x="426.48" y="822.26" width="4.15" height="3.94" fill="#fff"/>
<rect x="432.24" y="822.26" width="3.87" height="3.94" fill="#fff"/>
<rect x="480.48" y="815.26" width="6.25" height="4.54" fill="#fff"/>
<rect x="489.16" y="815.26" width="5.83" height="4.54" fill="#fff"/>
<rect x="630.59" y="815.26" width="6.47" height="4.54" fill="#fff"/>
<rect x="639.57" y="815.26" width="6.04" height="4.54" fill="#fff"/>
<rect x="627.82" y="850.86" width="6.55" height="4.54" fill="#fff"/>
<rect x="636.93" y="850.86" width="6.12" height="4.54" fill="#fff"/>
</svg></body></html>
